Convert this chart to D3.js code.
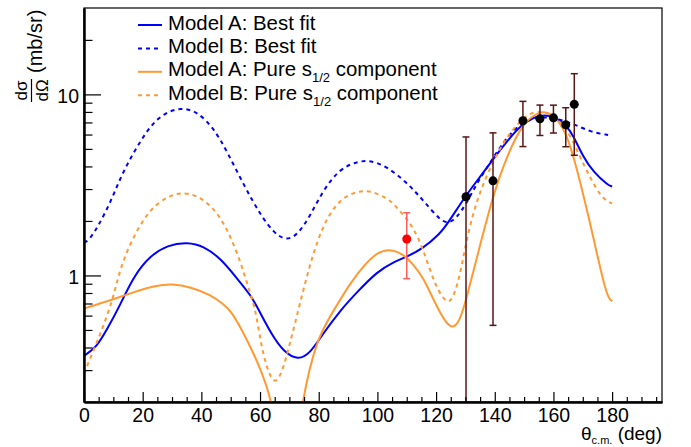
<!DOCTYPE html>
<html>
<head>
<meta charset="utf-8">
<script src="https://cdn.jsdelivr.net/npm/d3@7"></script>
<style>
  body { margin: 0; background: #fff; }
  svg { display: block; font-family: "Liberation Sans", Arial, Helvetica, sans-serif; }
</style>
</head>
<body>
<svg id="chart" width="691" height="447"></svg>
<script>
// ---------------- DATA ----------------
const xMajorTicks = [0, 20, 40, 60, 80, 100, 120, 140, 160, 180];
const xMinorTicks = [5,10,15,25,30,35,45,50,55,65,70,75,85,90,95,105,110,115,125,130,135,145,150,155,165,170,175,185,190,195];
const yMajorTicks = [1, 10];
const yMinorTicks = [0.3,0.4,0.5,0.6,0.7,0.8,0.9,2,3,4,5,6,7,8,9,20];

// curves: [theta (deg), dsigma/dOmega (mb/sr)]
const modelABest = [[0,0.36],[4.3,0.40],[8,0.51],[11.4,0.64],[17,1.0],[22.7,1.29],[28.4,1.47],[35.2,1.53],[40.9,1.45],[46.6,1.24],[52.2,0.96],[56.8,0.78],[59.6,0.643],[64,0.47],[68,0.38],[72.9,0.34],[77,0.37],[81.5,0.478],[87.4,0.643],[93.1,0.81],[99.9,1.05],[105.6,1.19],[110.2,1.27],[115.5,1.41],[121.3,1.7],[124,1.94],[130.2,2.78],[135,3.5],[139.2,4.34],[144,5.47],[149.7,7.0],[155.5,7.75],[160,7.6],[164.2,6.8],[166.7,5.96],[170.1,4.52],[173.6,3.73],[178.6,3.15],[180,3.1]];
const modelBBest = [[0,1.53],[1.1,1.53],[4.5,1.82],[9.1,2.55],[12.5,3.5],[17,4.82],[22.7,6.77],[27.3,7.85],[32.9,8.5],[38.6,8.05],[44.3,6.49],[48.8,4.82],[54.5,3.15],[60.2,2.15],[64.7,1.72],[68.7,1.56],[72.7,1.66],[77.2,2.15],[81.8,3.02],[87.4,3.9],[93.1,4.26],[97.7,4.33],[103.3,3.98],[109,3.36],[112.4,2.96],[115.6,2.6],[121.3,2.02],[124.3,1.93],[127,2.08],[130.4,2.5],[133.8,3.22],[138.3,4.16],[144,5.83],[149.7,7.06],[155.4,7.55],[161,7.37],[166.7,6.9],[172.4,6.22],[178.6,5.96],[180,5.92]];
const modelAPure = [[0,0.657],[9.1,0.73],[17,0.81],[23.9,0.876],[30.1,0.9],[36.3,0.865],[43.2,0.78],[47.7,0.69],[50,0.643],[55.4,0.45],[60,0.31],[64.3,0.2],[66.3,0.1],[68,0.03],[70.5,0.03],[72.2,0.1],[74.2,0.2],[79.3,0.45],[85.2,0.643],[90.9,0.92],[96.5,1.19],[99.9,1.33],[103.9,1.41],[109,1.31],[112.4,1.14],[115.6,0.98],[120.2,0.67],[125,0.49],[128.1,0.56],[130.2,0.73],[134.9,1.45],[139.5,2.8],[144,4.52],[149.7,7.06],[155.4,8.05],[158.8,8.05],[164.5,6.35],[169,3.36],[173.6,1.63],[178.1,0.76],[180,0.72]];
const modelBPure = [[0,0.288],[5.45,0.468],[8.5,0.643],[10,0.762],[12.5,1.12],[17,1.67],[22.7,2.35],[28.4,2.72],[32.9,2.88],[38.6,2.78],[44.3,2.35],[48.8,1.82],[53.4,1.19],[56.8,0.78],[58.5,0.643],[60.5,0.40],[62.8,0.29],[65.1,0.25],[67.5,0.29],[70.2,0.42],[73.6,0.70],[77.2,1.19],[81.8,1.98],[87.4,2.66],[93.1,2.92],[97.7,2.95],[103.3,2.66],[105.4,2.5],[109,2.15],[112.4,1.82],[115.6,1.4],[119.6,0.88],[124.1,0.67],[126.4,0.8],[128.1,1.0],[129.8,1.4],[131.9,2.0],[134.9,2.9],[139.5,4.3],[144,5.83],[150.8,7.85],[155.4,8.05],[158.8,7.85],[164.5,6.62],[169,4.52],[172.4,3.5],[175.8,2.78],[178.6,2.55],[180,2.5]];

// measured points
const expTheta = [130.2, 139.4, 149.6, 155.4, 160.0, 164.2, 167.1];
const expSigma = [2.72, 3.33, 7.15, 7.33, 7.42, 6.79, 8.81];
const expErr   = [3.1, 2.8, 2.0, 1.4, 1.3, 1.65, 4.2];
const redTheta = [110.0];
const redSigma = [1.59];
const redErr   = [0.63];

const legendLabels = ["Model A: Best fit", "Model B: Best fit", "Model A: Pure s", "Model B: Pure s"];

// ---------------- LAYOUT ----------------
const W = 691, H = 447;
const L = 84, R = 662, T = 8, B = 402;
const svg = d3.select("#chart");

const x = d3.scaleLinear().domain([0, 197]).range([L, R]);
const y = d3.scaleLog().domain([0.2, 30]).range([B, T]);

const BLUE = "#0000ff", ORANGE = "#ff9933";
const curveStyles = [
  {data: modelABest, color: BLUE, dash: null},
  {data: modelBBest, color: BLUE, dash: "4,4"},
  {data: modelAPure, color: ORANGE, dash: null},
  {data: modelBPure, color: ORANGE, dash: "4,4"}
];

svg.append("rect").attr("width", W).attr("height", H).attr("fill", "#fff");

svg.append("defs").append("clipPath").attr("id", "frameClip")
  .append("rect").attr("x", L).attr("y", T).attr("width", R - L).attr("height", B - T);

// frame
svg.append("rect").attr("x", L).attr("y", T).attr("width", R - L).attr("height", B - T)
  .attr("fill", "none").attr("stroke", "#000").attr("stroke-width", 1.2);

// curves
const line = d3.line().x(d => x(d[0])).y(d => y(d[1])).curve(d3.curveBasis);
const plot = svg.append("g").attr("clip-path", "url(#frameClip)");
curveStyles.forEach(c => {
  plot.append("path").attr("d", line(c.data)).attr("fill", "none")
    .attr("stroke", c.color).attr("stroke-width", 2)
    .attr("stroke-dasharray", c.dash);
});

// error bars
function drawPoints(th, sg, er, barColor, dotColor) {
  const g = plot.append("g");
  th.forEach((t, i) => {
    const lo = sg[i] - er[i], hi = sg[i] + er[i];
    const xp = x(t);
    const yHi = y(hi);
    const yLo = lo > 0 ? y(lo) : B + 5;
    g.append("line").attr("x1", xp).attr("x2", xp).attr("y1", yHi).attr("y2", yLo)
      .attr("stroke", barColor).attr("stroke-width", 1.5);
    g.append("line").attr("x1", xp - 3.5).attr("x2", xp + 3.5).attr("y1", yHi).attr("y2", yHi)
      .attr("stroke", barColor).attr("stroke-width", 1.5);
    if (lo > 0) {
      g.append("line").attr("x1", xp - 3.5).attr("x2", xp + 3.5).attr("y1", yLo).attr("y2", yLo)
        .attr("stroke", barColor).attr("stroke-width", 1.5);
    }
    g.append("circle").attr("cx", xp).attr("cy", y(sg[i])).attr("r", 4.5).attr("fill", dotColor);
  });
}
drawPoints(redTheta, redSigma, redErr, "#ff5c5c", "#ff0000");
drawPoints(expTheta, expSigma, expErr, "#5a1515", "#000000");

// axes
const axX = svg.append("g").attr("transform", `translate(0,${B})`);
axX.call(d3.axisBottom(x).tickValues(xMajorTicks).tickSizeInner(-10).tickSizeOuter(0).tickPadding(6).tickFormat(d3.format("d")));
const axXm = svg.append("g").attr("transform", `translate(0,${B})`);
axXm.call(d3.axisBottom(x).tickValues(xMinorTicks).tickSizeInner(-5).tickSizeOuter(0).tickFormat(""));
const axY = svg.append("g").attr("transform", `translate(${L},0)`);
axY.call(d3.axisLeft(y).tickValues(yMajorTicks).tickSizeInner(-17).tickSizeOuter(0).tickPadding(5).tickFormat(d3.format("d")));
const axYm = svg.append("g").attr("transform", `translate(${L},0)`);
axYm.call(d3.axisLeft(y).tickValues(yMinorTicks).tickSizeInner(-8.5).tickSizeOuter(0).tickFormat(""));

[axX, axXm, axY, axYm].forEach(a => {
  a.selectAll(".domain").attr("stroke", "#000").attr("stroke-width", 2);
  a.selectAll(".tick line").attr("stroke", "#000").attr("stroke-width", 1.2);
  a.selectAll("text").attr("font-size", 19.5).attr("fill", "#000")
    .attr("font-family", "'Liberation Sans', Arial, Helvetica, sans-serif");
});
axY.selectAll("text").attr("dy", "0.4em");

// x title
const xt = svg.append("text").attr("x", R).attr("y", 440).attr("text-anchor", "end")
  .attr("font-size", 19).attr("fill", "#000");
xt.append("tspan").text("θ");
xt.append("tspan").attr("font-size", 11).attr("dy", 3.5).text("c.m.");
xt.append("tspan").attr("dy", -3.5).text(" (deg)");

// y title (rotated fraction)
const yt = svg.append("g").attr("transform", "rotate(-90)");
yt.append("text").attr("x", -90.5).attr("y", 26.5).attr("text-anchor", "middle")
  .attr("font-size", 17).attr("fill", "#000").text("dσ");
yt.append("line").attr("x1", -102).attr("x2", -79).attr("y1", 31.5).attr("y2", 31.5)
  .attr("stroke", "#000").attr("stroke-width", 1.2);
yt.append("text").attr("x", -90.5).attr("y", 48).attr("text-anchor", "middle")
  .attr("font-size", 17).attr("fill", "#000").text("dΩ");
yt.append("text").attr("x", -73).attr("y", 41.5).attr("text-anchor", "start")
  .attr("font-size", 20).attr("fill", "#000").text("(mb/sr)");

// legend
const legY0 = 25, legDy = 23.4;
const leg = svg.append("g");
curveStyles.forEach((c, i) => {
  const cy = legY0 + i * legDy;
  leg.append("line").attr("x1", 138).attr("x2", 162).attr("y1", cy).attr("y2", cy)
    .attr("stroke", c.color).attr("stroke-width", 2).attr("stroke-dasharray", c.dash);
  const t = leg.append("text").attr("x", 168).attr("y", cy + 4.5)
    .attr("font-size", 20.4).attr("fill", "#000");
  t.append("tspan").text(legendLabels[i]);
  if (i >= 2) {
    t.append("tspan").attr("font-size", 13).attr("dy", 6).text("1/2");
    t.append("tspan").attr("dy", -6).text(" component");
  }
});
</script>
</body>
</html>
